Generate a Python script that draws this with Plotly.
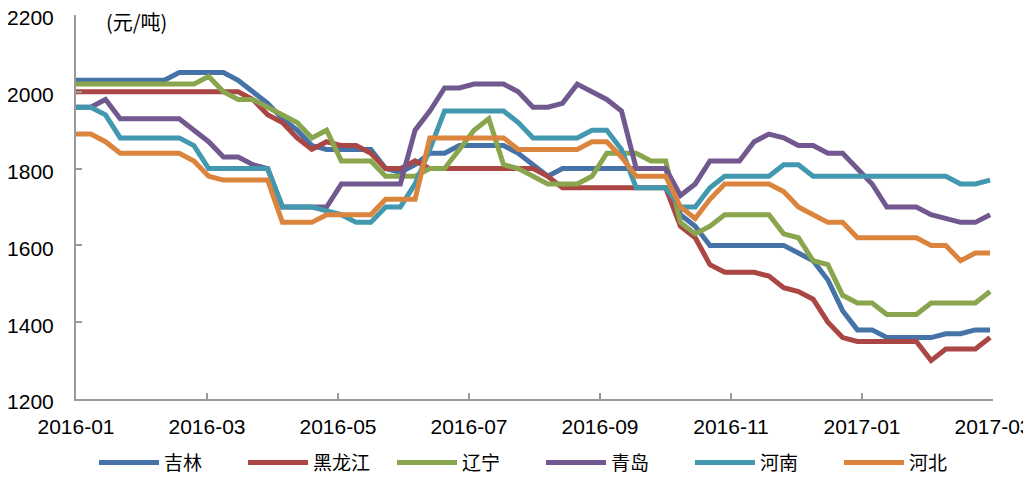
import plotly.graph_objects as go

# weekly observations, index 0 = first week of 2016-01
weeks = list(range(63))
tick_labels = ["2016-01", "2016-03", "2016-05", "2016-07", "2016-09", "2016-11", "2017-01", "2017-03"]

jilin = [2030]*7 + [2050]*4 + [2030, 2000, 1970, 1930, 1900, 1860, 1850, 1850, 1850, 1850,
         1800, 1790, 1810, 1840, 1840, 1860, 1860, 1860, 1860, 1840, 1810, 1780] + [1800]*8 + \
        [1680, 1650] + [1600]*6 + [1580, 1560, 1510, 1430, 1380, 1380] + [1360]*4 + [1370, 1370, 1380, 1380]

heilongjiang = [2000]*12 + [1980, 1940, 1920, 1880, 1850, 1870, 1860, 1860, 1840, 1800, 1800, 1820] + \
               [1800]*8 + [1780] + [1750]*8 + [1650, 1620, 1550] + [1530]*3 + \
               [1520, 1490, 1480, 1460, 1400, 1360] + [1350]*5 + [1300] + [1330]*3 + [1360]

liaoning = [2020]*9 + [2040] + [2000, 1980, 1980, 1960, 1940, 1920, 1880, 1900] + [1820]*3 + [1780]*3 + \
           [1800, 1800, 1850, 1900, 1930, 1810, 1800, 1780] + [1760]*3 + [1780] + [1840]*3 + [1820]*2 + \
           [1660, 1630, 1650] + [1680]*4 + [1630, 1620, 1560, 1550, 1470] + [1450]*2 + [1420]*3 + \
           [1450]*4 + [1480]

qingdao = [1960, 1960, 1980] + [1930]*5 + [1900, 1870, 1830, 1830, 1810, 1800] + [1700]*4 + [1760]*5 + \
          [1900, 1950, 2010, 2010] + [2020]*3 + [2000, 1960, 1960, 1970, 2020, 2000, 1980, 1950] + \
          [1800]*3 + [1730, 1760] + [1820]*3 + [1870, 1890, 1880, 1860, 1860, 1840, 1840, 1800, 1760] + \
          [1700]*3 + [1680, 1670, 1660, 1660, 1680]

henan = [1960, 1960, 1940] + [1880]*5 + [1860] + [1800]*5 + [1700]*3 + \
        [1690, 1680, 1660, 1660, 1700, 1700, 1760, 1850] + [1950]*5 + [1920] + [1880]*4 + \
        [1900, 1900, 1850] + [1750]*3 + [1700, 1700, 1750] + [1780]*4 + [1810, 1810] + [1780]*10 + \
        [1760, 1760, 1770]

hebei = [1890, 1890, 1870] + [1840]*5 + [1820, 1780] + [1770]*4 + [1660]*3 + [1680]*4 + [1720]*3 + \
        [1880]*6 + [1850]*5 + [1870, 1870, 1830] + [1780]*3 + [1700, 1670, 1720] + [1760]*4 + \
        [1740, 1700, 1680, 1660, 1660] + [1620]*5 + [1600, 1600, 1560, 1580, 1580]

series = [
    ("吉林", jilin, "#4572A7"),
    ("黑龙江", heilongjiang, "#AA4643"),
    ("辽宁", liaoning, "#89A54E"),
    ("青岛", qingdao, "#71588F"),
    ("河南", henan, "#4198AF"),
    ("河北", hebei, "#DB843D"),
]

x_end = 62.2
tick_vals = [k * x_end / (len(tick_labels) - 1) for k in range(len(tick_labels))]

fig = go.Figure()
for name, vals, color in series:
    fig.add_trace(go.Scatter(x=weeks, y=vals, mode="lines", name=name,
                             line=dict(color=color, width=5)))

axis_font = dict(family="Liberation Sans, Arial, sans-serif", size=21, color="#000000")

# the page body has an 8px margin, so the figure is 8px smaller and margins 8px tighter
fig.update_layout(
    width=1023, height=469,
    margin=dict(l=68, r=38, t=7, b=78, autoexpand=False),
    plot_bgcolor="white", paper_bgcolor="white",
    showlegend=True,
    legend=dict(orientation="h", x=0.0196, xanchor="left", y=-0.166, yanchor="middle",
                font=dict(family="Noto Sans CJK SC", size=19, color="#000000"),
                itemwidth=60, entrywidth=74, entrywidthmode="pixels",
                bgcolor="rgba(0,0,0,0)"),
    xaxis=dict(range=[0, x_end], tickmode="array", tickvals=tick_vals, ticktext=tick_labels,
               showgrid=False, zeroline=False, showline=True, linecolor="#9a9a9a", linewidth=2,
               ticks="inside", ticklen=6, tickcolor="#9a9a9a", tickwidth=2, automargin=False,
               ticklabeloverflow="allow", tickfont=axis_font, ticklabelstandoff=8),
    yaxis=dict(range=[1200, 2200], dtick=200, tick0=1200,
               showgrid=False, zeroline=False, showline=True, linecolor="#9a9a9a", linewidth=2,
               ticks="inside", ticklen=6, tickcolor="#9a9a9a", tickwidth=2, automargin=False,
               ticklabeloverflow="allow", tickfont=axis_font, ticklabelstandoff=16,
               ticklabelshift=3),
    annotations=[dict(text="(元/吨)", xref="paper", yref="paper", x=0.031, y=0.982,
                      xanchor="left", yanchor="middle", showarrow=False,
                      font=dict(family="Noto Sans CJK SC", size=20, color="#000000"))],
)

fig.write_html("out.html")
